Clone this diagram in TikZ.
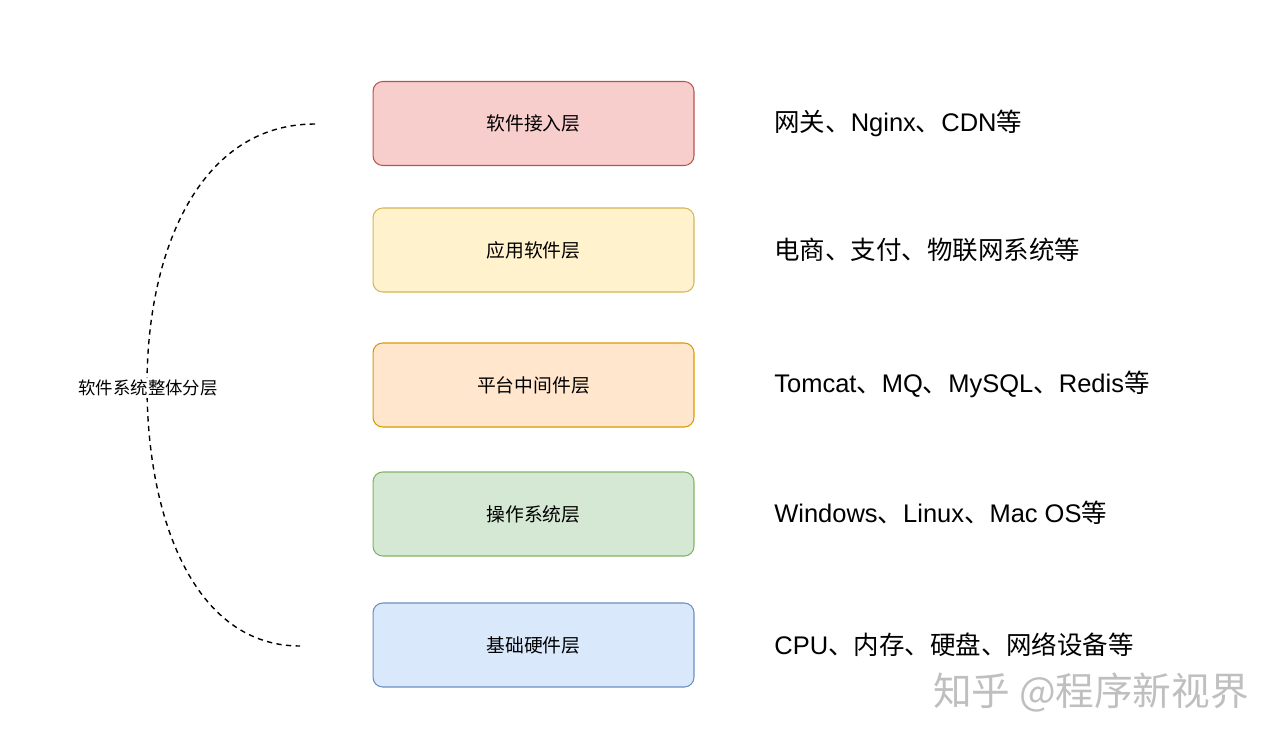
\documentclass[tikz,border=0pt]{standalone}
\usepackage{fontspec}
\setmainfont{Liberation Sans}
\newfontfamily\cjk{Noto Sans CJK SC}
\usepackage{xcolor}
\usepackage{tikz}
\usetikzlibrary{positioning}

\definecolor{redfill}{HTML}{F8CECC}\definecolor{reddraw}{HTML}{B85450}
\definecolor{yelfill}{HTML}{FFF2CC}\definecolor{yeldraw}{HTML}{D6B656}
\definecolor{orgfill}{HTML}{FFE6CC}\definecolor{orgdraw}{HTML}{D79B00}
\definecolor{grnfill}{HTML}{D5E8D4}\definecolor{grndraw}{HTML}{82B366}
\definecolor{blufill}{HTML}{DAE8FC}\definecolor{bludraw}{HTML}{6C8EBF}

\begin{document}
\begin{tikzpicture}[x=0.02cm,y=-0.02cm]
					\tikzstyle{layer}=[rectangle,rounded corners=5.5pt,line width=0.6pt,minimum width=6.42cm,minimum height=1.68cm,font=\cjk\fontsize{10.7pt}{12pt}\selectfont]
					\tikzstyle{desc}=[anchor=west,inner sep=0pt,font=\fontsize{14.5pt}{17pt}\selectfont]
					\useasboundingbox (0,0) rectangle (1280,744);
					\node[layer,fill=redfill,draw=reddraw](b1) at (533.5,123.5){软件接入层};
					\node[layer,fill=yelfill,draw=yeldraw](b2) at (533.5,250){应用软件层};
					\node[layer,fill=orgfill,draw=orgdraw](b3) at (533.5,385){平台中间件层};
					\node[layer,fill=grnfill,draw=grndraw](b4) at (533.5,514){操作系统层};
					\node[layer,fill=blufill,draw=bludraw](b5) at (533.5,645){基础硬件层};
					\node[desc](t1) at (774,123.5){{\cjk 网关、}Nginx{\cjk 、}CDN{\cjk 等}};
					\node[desc](t2) at (774,250){\cjk 电商、支付、物联网系统等};
					\node[desc](t3) at (774,384){Tomcat{\cjk 、}MQ{\cjk 、}MySQL{\cjk 、}Redis{\cjk 等}};
					\node[desc](t4) at (774,513){Windows{\cjk 、}Linux{\cjk 、}Mac OS{\cjk 等}};
					\node[desc](t5) at (774,645){CPU{\cjk 、内存、硬盘、网络设备等}};
					% bracket
					\coordinate(top) at (315,124);
					\coordinate(mid) at (147,385);
					\coordinate(bot) at (300,646);
					\draw[line width=0.8pt,dash pattern=on 3pt off 2.5pt]
						(top) .. controls (200,124) and (147,250) .. (mid)
						.. controls (147,520) and (195,646) .. (bot);
					\node[font=\cjk\fontsize{9.9pt}{11pt}\selectfont,fill=white,inner sep=1pt](lbl) at (148,388){软件系统整体分层};
					\node[font=\cjk\fontsize{22pt}{24pt}\selectfont,text=black!25](wm) at (1091,692){知乎 @程序新视界};
				\end{tikzpicture}
\end{document}
